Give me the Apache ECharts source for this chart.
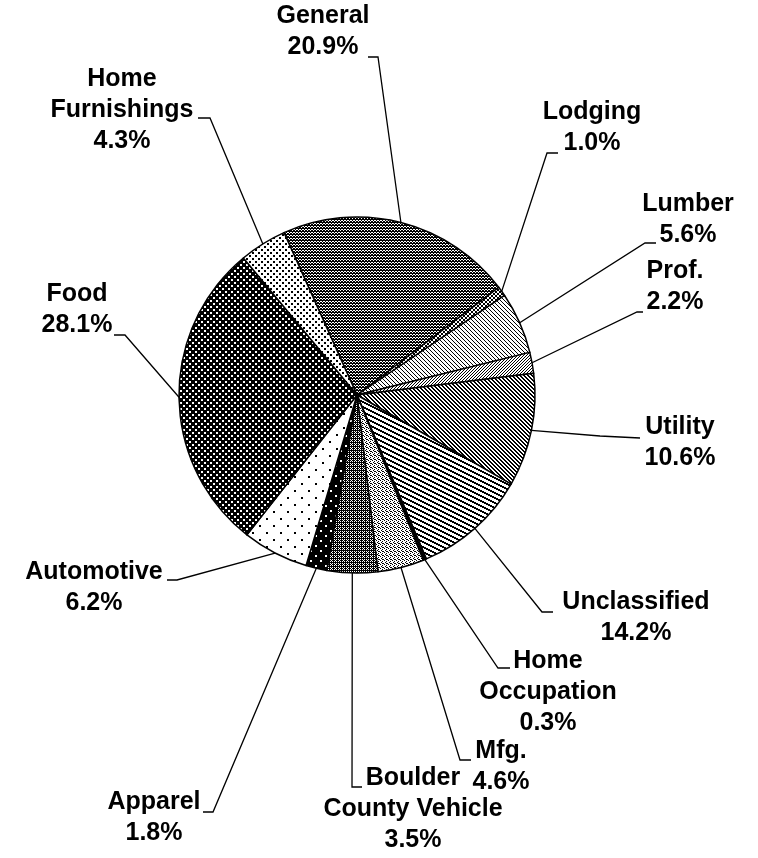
<!DOCTYPE html>
<html><head><meta charset="utf-8">
<script src="https://cdn.jsdelivr.net/npm/echarts@6/dist/echarts.min.js"></script>
<style>html,body{margin:0;padding:0;background:#fff}#c{width:758px;height:858px}</style>
</head><body><div id="c"></div>
<script>
// ---- data ----
const categories = ['General','Lodging','Lumber','Prof.','Utility','Unclassified','Home\nOccupation','Mfg.','Boulder\nCounty Vehicle','Apparel','Automotive','Food','Home\nFurnishings'];
// slice shares as drawn in the picture (percent of the circle)
const sliceShares = [21.4, 0.9, 5.6, 1.9, 10.3, 10.3, 0.3, 4.2, 4.6, 1.9, 6.0, 28.4, 4.3];
// percentages printed in the labels
const percentLabels = ['20.9%','1.0%','5.6%','2.2%','10.6%','14.2%','0.3%','4.6%','3.5%','1.8%','6.2%','28.1%','4.3%'];

// ---- layout (label block centres, leader elbows and ends) ----
const labelPos = [[323,32],[592,128],[688,220],[675,287],[680,443],[636,618],[548,692],[501,767],[413,809],[154,818],[94,588],[77,310],[122,110]];
const elbows  = [[378,57],[547,153],[645,243],[637,312],[600,436],[542,612],[498,668],[460,760],[352,787],[213,812],[177,580],[125,335],[210,118]];
const ends    = [[368,57],[558,153],[656,243],[643,312],[640,438],[553,612],[510,668],[471,760],[362,787],[203,812],[167,580],[114,335],[198,118]];

// ---- fill patterns ----
function tile(w,h,bg,fn){
  const c=document.createElement('canvas');c.width=w;c.height=h;
  const x=c.getContext('2d');x.fillStyle=bg;x.fillRect(0,0,w,h);
  x.fillStyle= bg==='#fff' ? '#000' : '#fff';
  for(let j=0;j<h;j++)for(let i=0;i<w;i++)if(fn(i,j))x.fillRect(i,j,1,1);
  return c;
}
const dot2 = (a)=>(i,j)=>(i<2&&j<2)||(i>=a&&i<a+2&&j>=a&&j<a+2);
const patterns = [
  tile(3,3,'#fff',(i,j)=>i===j||i+j===2||(i===1&&j===0)),       // General mesh
  tile(4,4,'#fff',(i,j)=>i===j||i+j===3),                       // Lodging mesh
  tile(4,4,'#fff',(i,j)=>i===j),                                // Lumber thin "\"
  tile(3,3,'#fff',(i,j)=>i+j===2),                              // Prof "/"
  tile(4,4,'#fff',(i,j)=>((i-j+4)%4)<2),                        // Utility thick "\"
  tile(10,5,'#fff',(i,j)=>{const y=Math.floor(i/2)%5;return j===y||j===(y+1)%5;}), // Unclassified flatter "\"
  tile(2,2,'#000',()=>false),                                   // Home Occupation black
  tile(4,4,'#fff',(i,j)=>(i===0&&j===0)||(i===2&&j===1)||(i===1&&j===2)||(i===3&&j===3)||(i===2&&j===3)), // Mfg light stipple
  tile(4,4,'#fff',(i,j)=>(i+j)%2===0||(i===1&&j===0)||(i===3&&j===2)||(i===1&&j===2)), // Boulder dark stipple
  tile(10,10,'#000',dot2(5)),                                   // Apparel
  tile(14,14,'#fff',dot2(7)),                                   // Automotive
  tile(6,6,'#000',dot2(3)),                                     // Food
  tile(6,6,'#fff',dot2(3))                                      // Home Furnishings
];

const chart = echarts.init(document.getElementById('c'), null, {renderer:'canvas'});
const data = categories.map((n,i)=>({
  name:n, value:sliceShares[i],
  itemStyle:{color:{image:patterns[i], repeat:'repeat'}},
  label:{formatter: n + '\n' + percentLabels[i]}
}));
const startAngle = 114.2;
const total = sliceShares.reduce((a,b)=>a+b,0);
function edgePoint(i){
  let acc=0;for(let k=0;k<i;k++)acc+=sliceShares[k];
  const mid=(startAngle-(acc+sliceShares[i]/2)/total*360)*Math.PI/180;
  return [357+178*Math.cos(mid),395-178*Math.sin(mid)];
}
chart.setOption({
  animation:false,
  series:[{
    type:'pie', center:[357,395], radius:178, startAngle:startAngle, clockwise:true,
    avoidLabelOverlap:false, minAngle:0,
    itemStyle:{borderColor:'#000', borderWidth:1.5},
    label:{show:true, position:'outside', color:'#000', fontFamily:'"Liberation Sans", Arial, sans-serif',
      fontWeight:'bold', fontSize:25, lineHeight:31, align:'center'},
    labelLine:{show:true, length:20, length2:10, lineStyle:{color:'#000', width:1.3}},
    emphasis:{disabled:true},
    labelLayout:function(p){
      const i=p.dataIndex;
      const p0=(p.labelLinePoints&&p.labelLinePoints[0])?p.labelLinePoints[0]:edgePoint(i);
      return {x:labelPos[i][0], y:labelPos[i][1], align:'center', verticalAlign:'middle',
        labelLinePoints:[p0, elbows[i], ends[i]]};
    },
    data:data
  }]
});
</script></body></html>
